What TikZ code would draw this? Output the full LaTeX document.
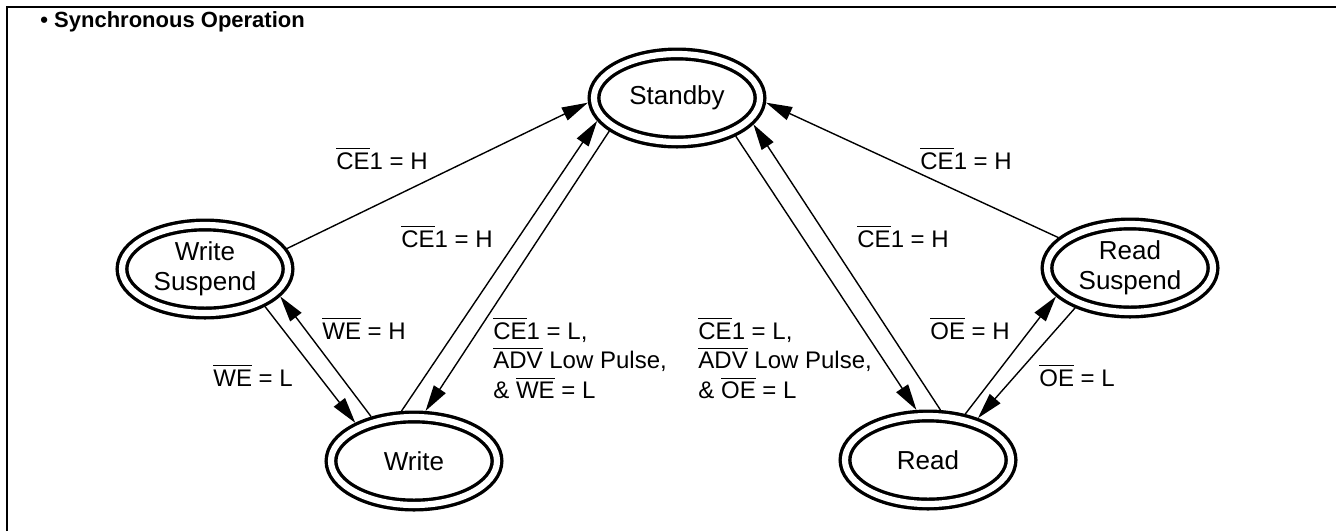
\documentclass[tikz,border=0pt]{standalone}
\usepackage{fontspec}
\setmainfont{Liberation Sans}
\usetikzlibrary{arrows.meta,shapes.geometric}
\newcommand{\ovl}[1]{\vbox{\hrule height 0.6pt\kern1.7pt\hbox{#1}}}
\begin{document}
\begin{tikzpicture}[x=0.5pt,y=-0.5pt,
  state/.style={ellipse, draw, double, line width=1.7pt, double distance=3.1pt,
    minimum width=83pt, minimum height=44pt, inner sep=0pt, outer sep=3.25pt,
    align=center, font=\fontsize{13}{15}\selectfont},
  conn/.style={line width=0.7pt, -{Triangle[length=13pt,width=7pt]}},
  lbl/.style={inner sep=0pt, anchor=base west, font=\fontsize{12}{14.5}\selectfont}]
\useasboundingbox (0,0) rectangle (1336,531);
\draw[line width=1.4pt] (7,531) -- (7,7) -- (1336,7);
\node[anchor=base west, inner sep=0pt, font=\fontsize{11}{13}\selectfont\bfseries] (title) at (40,27) {• Synchronous Operation};

\node[state] (standby) at (677,98) {Standby};
\node[state] (ws) at (205,269) {Write\\Suspend};
\node[state] (rs) at (1130,268) {Read\\Suspend};
\node[state] (write) at (414,461) {Write};
\node[state] (read) at (928,460) {Read};

\draw[conn] (ws.14.4) -- (standby.183.7);
\draw[conn] (write.104.3) -- (standby.196.3);
\draw[conn] (standby.206.6) -- (write.77.4);
\draw[conn] (ws.328.2) -- (write.147.4);
\draw[conn] (write.134.4) -- (ws.340.3);
\draw[conn] (rs.157.4) -- (standby.357.5);
\draw[conn] (read.76.5) -- (standby.341);
\draw[conn] (standby.327.2) -- (read.103.3);
\draw[conn] (read.51.8) -- (rs.201.4);
\draw[conn] (rs.216.3) -- (read.40);

\node[lbl] (l1) at (336,169) {\ovl{CE}1 = H};
\node[lbl] (l2) at (401,247) {\ovl{CE}1 = H};
\node[lbl] (l3) at (322,339) {\ovl{WE} = H};
\node[lbl] (l4) at (213,386) {\ovl{WE} = L};
\node[lbl] (l5) at (493,339) {\begin{tabular}[t]{@{}l@{}}\ovl{CE}1 = L,\\ \ovl{ADV} Low Pulse,\\ \& \ovl{WE} = L\end{tabular}};
\node[lbl] (l6) at (698,339) {\begin{tabular}[t]{@{}l@{}}\ovl{CE}1 = L,\\ \ovl{ADV} Low Pulse,\\ \& \ovl{OE} = L\end{tabular}};
\node[lbl] (l7) at (857,247) {\ovl{CE}1 = H};
\node[lbl] (l8) at (920,169) {\ovl{CE}1 = H};
\node[lbl] (l9) at (930,339) {\ovl{OE} = H};
\node[lbl] (l10) at (1039,386) {\ovl{OE} = L};
\end{tikzpicture}
\end{document}
